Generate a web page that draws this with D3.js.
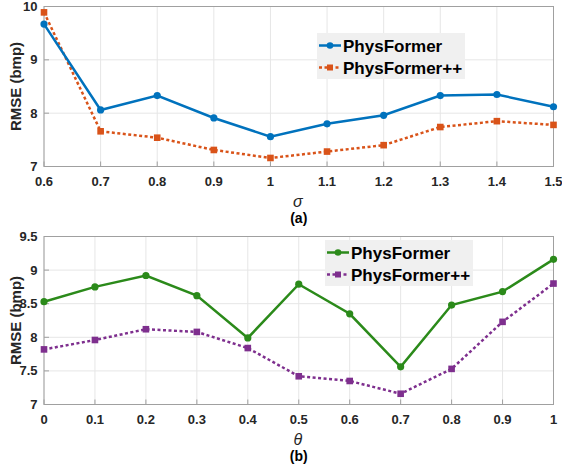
<!DOCTYPE html>
<html>
<head>
<meta charset="utf-8">
<script src="https://cdn.jsdelivr.net/npm/d3@7"></script>
<style>
  body { margin: 0; background: #fff; }
  svg { display: block; }
  text { font-family: "Liberation Sans", Arial, sans-serif; }
</style>
</head>
<body>
<div id="chart"></div>
<script>
// panel (a): sigma sweep
var sigmaVals = [0.6, 0.7, 0.8, 0.9, 1.0, 1.1, 1.2, 1.3, 1.4, 1.5];
var sigmaPF = [9.67, 8.06, 8.33, 7.91, 7.56, 7.80, 7.96, 8.33, 8.35, 8.12];
var sigmaPFpp = [9.89, 7.66, 7.54, 7.31, 7.16, 7.28, 7.40, 7.74, 7.85, 7.78];
var sigmaTicksY = [7, 8, 9, 10];

// panel (b): theta sweep
var thetaVals = [0, 0.1, 0.2, 0.3, 0.4, 0.5, 0.6, 0.7, 0.8, 0.9, 1.0];
var thetaPF = [8.53, 8.75, 8.92, 8.62, 7.99, 8.79, 8.35, 7.56, 8.48, 8.68, 9.16];
var thetaPFpp = [7.82, 7.96, 8.12, 8.08, 7.84, 7.42, 7.35, 7.16, 7.53, 8.23, 8.80];
var thetaTicksY = [7, 7.5, 8, 8.5, 9, 9.5];

var seriesNames = ["PhysFormer", "PhysFormer++"];

var width = 562, height = 466;
var svg = d3.select("#chart").append("svg")
  .attr("width", width).attr("height", height);

function panel(opt) {
  var x = d3.scaleLinear().domain(opt.xDomain).range([44, 553.5]);
  var y = d3.scaleLinear().domain(opt.yDomain).range([opt.bottom, opt.top]);
  var g = svg.append("g");

  // grid
  g.selectAll("line.gx").data(opt.xs).enter().append("line")
    .attr("x1", d => x(d)).attr("x2", d => x(d))
    .attr("y1", opt.top).attr("y2", opt.bottom)
    .attr("stroke", "#e6e6e6").attr("stroke-width", 1);
  g.selectAll("line.gy").data(opt.yTicks).enter().append("line")
    .attr("x1", x.range()[0]).attr("x2", x.range()[1])
    .attr("y1", d => y(d)).attr("y2", d => y(d))
    .attr("stroke", "#e6e6e6").attr("stroke-width", 1);

  // box
  g.append("rect")
    .attr("x", x.range()[0]).attr("y", opt.top)
    .attr("width", x.range()[1] - x.range()[0])
    .attr("height", opt.bottom - opt.top)
    .attr("fill", "none").attr("stroke", "#a0a0a0").attr("stroke-width", 1);

  // inward ticks
  g.selectAll("line.tx").data(opt.xs).enter().append("line")
    .attr("x1", d => x(d)).attr("x2", d => x(d))
    .attr("y1", opt.bottom).attr("y2", opt.bottom - 5)
    .attr("stroke", "#a0a0a0");
  g.selectAll("line.ty").data(opt.yTicks).enter().append("line")
    .attr("x1", x.range()[0]).attr("x2", x.range()[0] + 5)
    .attr("y1", d => y(d)).attr("y2", d => y(d))
    .attr("stroke", "#a0a0a0");

  // tick labels
  g.selectAll("text.xl").data(opt.xs).enter().append("text")
    .attr("x", d => x(d)).attr("y", opt.bottom + 19)
    .attr("text-anchor", "middle")
    .attr("font-size", 13).attr("font-weight", "bold").attr("fill", "#262626")
    .text(d => opt.xFmt(d));
  g.selectAll("text.yl").data(opt.yTicks).enter().append("text")
    .attr("x", 37.5).attr("y", d => y(d) + 4.5)
    .attr("text-anchor", "end")
    .attr("font-size", 13).attr("font-weight", "bold").attr("fill", "#262626")
    .text(d => opt.yFmt(d));

  // y label
  g.append("text")
    .attr("transform", "translate(20.5," + ((opt.top + opt.bottom) / 2) + ") rotate(-90)")
    .attr("text-anchor", "middle")
    .attr("font-size", 15).attr("font-weight", "bold").attr("fill", "#262626")
    .text("RMSE (bmp)");

  // x label (greek, italic serif)
  g.append("text")
    .attr("x", (x.range()[0] + x.range()[1]) / 2 - 1).attr("y", opt.bottom + 40.5)
    .attr("text-anchor", "middle")
    .attr("font-family", "'Liberation Serif', 'DejaVu Serif', serif")
    .attr("font-style", "italic")
    .attr("font-size", 16).attr("fill", "#262626")
    .text(opt.xLabel);

  // panel caption
  g.append("text")
    .attr("x", (x.range()[0] + x.range()[1]) / 2).attr("y", opt.bottom + 56)
    .attr("text-anchor", "middle")
    .attr("font-size", 14).attr("font-weight", "bold").attr("fill", "#000")
    .text(opt.caption);

  var line = d3.line().x(d => x(d[0])).y(d => y(d[1]));

  // series 2 (dotted, squares)
  var d2 = opt.xs.map((v, i) => [v, opt.s2[i]]);
  g.append("path").datum(d2).attr("d", line)
    .attr("fill", "none").attr("stroke", opt.c2).attr("stroke-width", 2.5)
    .attr("stroke-dasharray", "3,2.5");
  g.selectAll("rect.m2").data(d2).enter().append("rect")
    .attr("x", d => x(d[0]) - 3.3).attr("y", d => y(d[1]) - 3.3)
    .attr("width", 6.6).attr("height", 6.6).attr("fill", opt.c2);

  // series 1 (solid, circles)
  var d1 = opt.xs.map((v, i) => [v, opt.s1[i]]);
  g.append("path").datum(d1).attr("d", line)
    .attr("fill", "none").attr("stroke", opt.c1).attr("stroke-width", 2.5);
  g.selectAll("circle.m1").data(d1).enter().append("circle")
    .attr("cx", d => x(d[0])).attr("cy", d => y(d[1]))
    .attr("r", 3.6).attr("fill", opt.c1);

  // legend
  var lg = g.append("g").attr("transform", "translate(" + opt.legX + "," + opt.legY + ")");
  lg.append("rect").attr("width", opt.legW).attr("height", 46).attr("fill", "#f0f0f0");
  [0, 1].forEach(function (i) {
    var yy = 12.5 + i * 22;
    var c = i === 0 ? opt.c1 : opt.c2;
    var l = lg.append("line").attr("x1", 2).attr("x2", 24)
      .attr("y1", yy).attr("y2", yy).attr("stroke", c).attr("stroke-width", 2.5);
    if (i === 0) {
      lg.append("circle").attr("cx", 13).attr("cy", yy).attr("r", 3.3).attr("fill", c);
    } else {
      l.attr("stroke-dasharray", "3,2.5");
      lg.append("rect").attr("x", 10).attr("y", yy - 3)
        .attr("width", 6).attr("height", 6).attr("fill", c);
    }
    lg.append("text").attr("x", 26).attr("y", yy + 6)
      .attr("font-size", 17).attr("font-weight", "bold").attr("fill", "#000")
      .text(seriesNames[i]);
  });
}

panel({
  xs: sigmaVals, s1: sigmaPF, s2: sigmaPFpp,
  xDomain: [0.6, 1.5], yDomain: [7, 10], yTicks: sigmaTicksY,
  top: 6.5, bottom: 166.5,
  xFmt: d => d === 1 ? "1" : d3.format(".1f")(d),
  yFmt: d => String(d),
  xLabel: "\u03c3", caption: "(a)",
  c1: "#0072bd", c2: "#d95319",
  legX: 317, legY: 33, legW: 148
});

panel({
  xs: thetaVals, s1: thetaPF, s2: thetaPFpp,
  xDomain: [0, 1], yDomain: [7, 9.5], yTicks: thetaTicksY,
  top: 236.5, bottom: 404.5,
  xFmt: d => (d === 0 || d === 1) ? String(d) : d3.format(".1f")(d),
  yFmt: d => String(d),
  xLabel: "\u03b8", caption: "(b)",
  c1: "#2b8a1a", c2: "#7e2f8e",
  legX: 325, legY: 240, legW: 148
});
</script>
</body>
</html>
